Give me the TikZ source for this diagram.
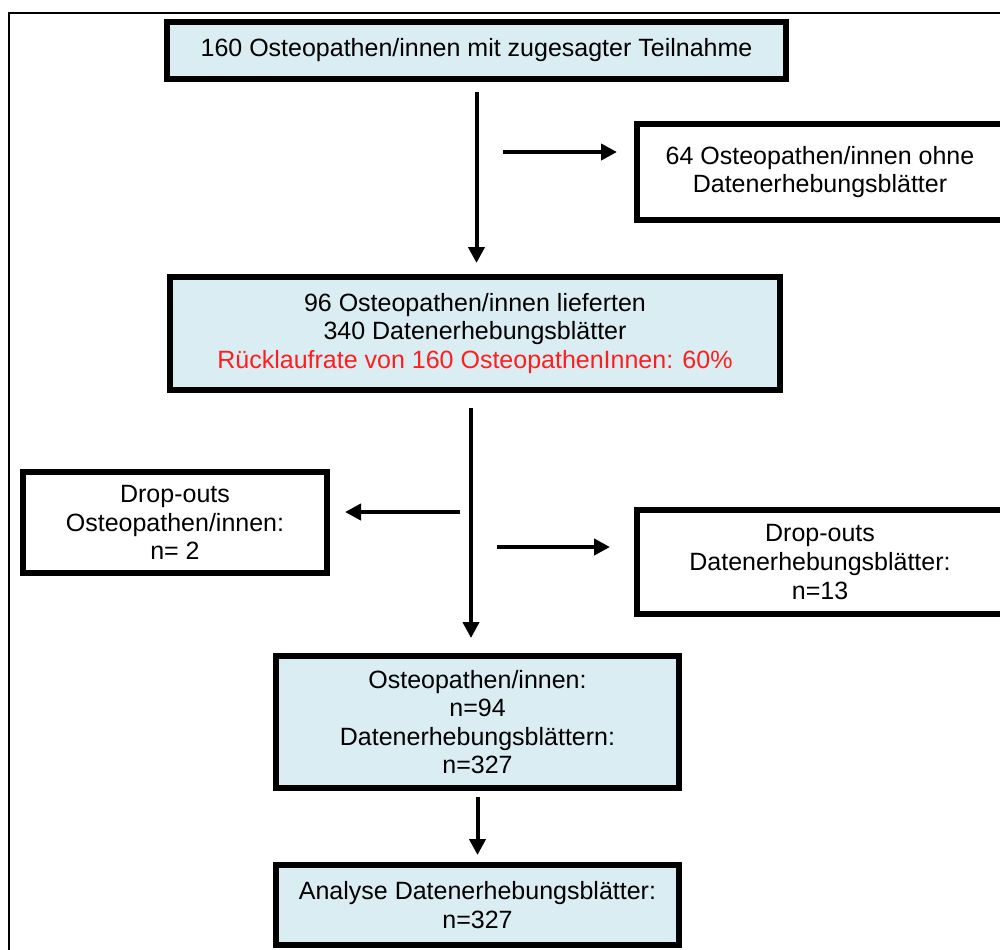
\documentclass[tikz,border=0pt]{standalone}
\usepackage{fontspec}
\setmainfont{Liberation Sans}
\usetikzlibrary{arrows.meta}
\definecolor{boxblue}{RGB}{218,237,243}
\definecolor{ratered}{RGB}{255,30,30}
\tikzset{
  flowbox/.style={draw, line width=3pt, align=center, inner sep=0pt, outer sep=0pt,
    font=\fontsize{12.5}{14.3}\selectfont},
  bluebox/.style={flowbox, fill=boxblue},
  flowarrow/.style={line width=2pt, -{Triangle[length=8pt,width=8pt]}}
}
\begin{document}
\begin{tikzpicture}[x=0.5pt,y=-0.5pt]
	\useasboundingbox (0,0) rectangle (1000,949);
	\clip (0,0) rectangle (1000,949); % the page cuts the frame and the right boxes
	\draw[line width=1pt] (9,1000) -- (9,13) -- (1100,13); % outer frame
	
	\node[bluebox, minimum width=309.5pt, minimum height=28.5pt] (Start) at (476.5,50.5)
	{160 Osteopathen/innen mit zugesagter Teilnahme};
	\node[flowbox, minimum width=183pt, minimum height=48pt] (Ohne) at (820,172)
	{64 Osteopathen/innen ohne\\Datenerhebungsblätter};
	\node[bluebox, minimum width=305pt, minimum height=56.5pt] (Geliefert) at (475,333.5)
	{96 Osteopathen/innen lieferten\\340 Datenerhebungsblätter\\
		\textcolor{ratered}{Rücklaufrate von 160 OsteopathenInnen: 60\%}};
	\node[flowbox, minimum width=152pt, minimum height=50.5pt] (DropOsteo) at (175,522.5)
	{Drop-outs\\Osteopathen/innen:\\n= 2};
	\node[flowbox, minimum width=183pt, minimum height=52pt] (DropBlatt) at (820,562)
	{Drop-outs\\Datenerhebungsblätter:\\n=13};
	\node[bluebox, minimum width=201.5pt, minimum height=66pt] (Rest) at (477.5,722)
	{Osteopathen/innen:\\n=94\\Datenerhebungsblättern:\\n=327};
	\node[bluebox, minimum width=201.5pt, minimum height=40pt] (Analyse) at (477.5,905)
	{Analyse Datenerhebungsblätter:\\n=327};
	
	% free starting points of the arrows
	\coordinate (ForkA) at (503,152);
	\coordinate (ForkB) at (471,408);
	\coordinate (ForkL) at (460,512);
	\coordinate (ForkR) at (497,547);
	
	\draw[flowarrow, shorten <=6.5pt, shorten >=7pt] (Start.south) -- (Start.south |- Geliefert.north);
	\draw[flowarrow, shorten >=10pt] (ForkA) -- (ForkA -| Ohne.west);
	\draw[flowarrow, shorten >=9pt] (ForkB) -- (ForkB |- Rest.north);
	\draw[flowarrow, shorten >=9pt] (ForkL) -- (ForkL -| DropOsteo.east);
	\draw[flowarrow, shorten >=13.5pt] (ForkR) -- (ForkR -| DropBlatt.west);
	\draw[flowarrow, shorten <=4.5pt, shorten >=5pt] (Rest.south) -- (Analyse.north);
\end{tikzpicture}
\end{document}
